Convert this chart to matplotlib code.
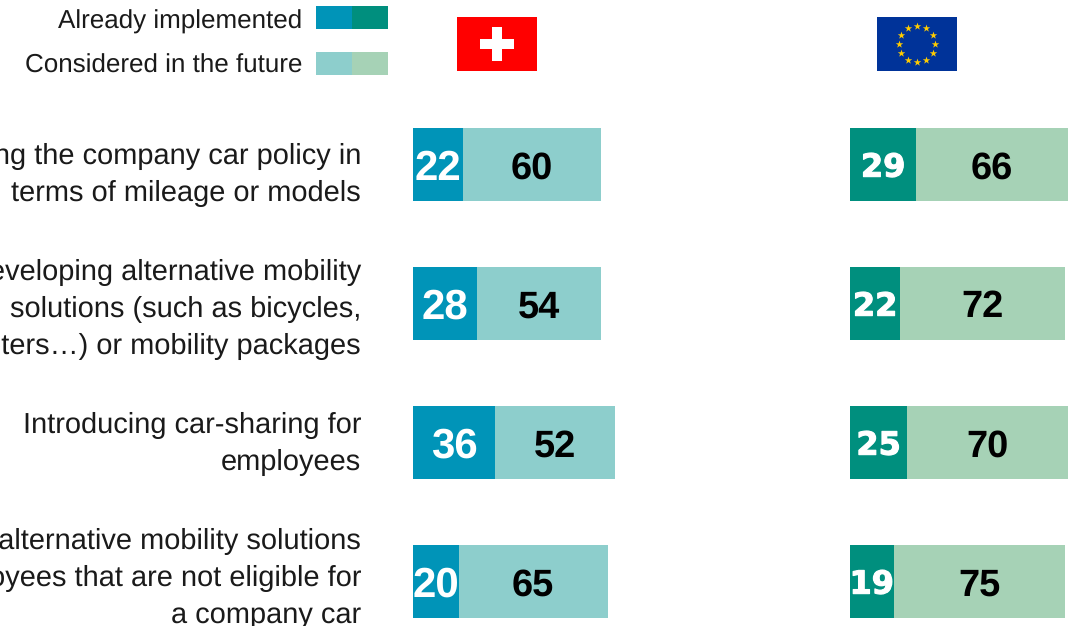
import numpy as np
import matplotlib
matplotlib.use("Agg")
import matplotlib.pyplot as plt
from matplotlib import patches
import matplotlib.patheffects as pe

plt.rcParams['font.family'] = ['Liberation Sans', 'DejaVu Sans']
plt.rcParams['text.hinting'] = 'none'
plt.rcParams['text.hinting_factor'] = 1

# values
labels = [
    "Changing the company car policy in\nterms of mileage or models",
    "Developing alternative mobility\nsolutions (such as bicycles,\nscooters…) or mobility packages",
    "Introducing car-sharing for\nemployees",
    "Offering alternative mobility solutions\nto employees that are not eligible for\na company car",
]
ch_done = [22, 28, 36, 20]
ch_future = [60, 54, 52, 65]
eu_done = [29, 22, 25, 19]
eu_future = [66, 72, 70, 75]
legend_names = ["Already implemented", "Considered in the future"]

W, H = 1074, 626
fig = plt.figure(figsize=(W / 100, H / 100), dpi=100)

# overlay in pixel coordinates for the legend, flags and row labels
bg = fig.add_axes([0, 0, 1, 1])
bg.set_xlim(0, W)
bg.set_ylim(H, 0)
bg.axis('off')


def add_bars(left_px, done, future, dark, light, done_font, done_size, stroke):
    # 100 units is 229 px, rows are 139 px apart
    ax = fig.add_axes([left_px / W, 0, 98 * 2.29 / W, (H - 95) / H])
    y = np.arange(len(done))
    ax.barh(y, done, height=0.525, color=dark)
    ax.barh(y, future, left=done, height=0.525, color=light)
    ax.set_xlim(0, 98)
    ax.set_ylim((H - 164.5) / 139, -0.5)
    ax.axis('off')
    for i in y:
        t = ax.text(done[i] / 2, i, str(done[i]), color='white', ha='center', va='center_baseline',
                    fontsize=done_size, fontweight='bold', family=done_font)
        if stroke:
            t.set_path_effects([pe.withStroke(linewidth=stroke, foreground='white')])
        ax.text(done[i] + future[i] / 2, i, str(future[i]), color='black', ha='center',
                va='center_baseline', fontsize=27, fontweight='bold')


add_bars(413, ch_done, ch_future, '#0094B8', '#8DCECC', 'Liberation Sans', 30, 0)
add_bars(850, eu_done, eu_future, '#008F7E', '#A6D2B6', 'DejaVu Sans', 23, 0.8)

# row labels
label_y = [175, 309.5, 444, 578.5]
for text, yy in zip(labels, label_y):
    bg.text(361, yy, text, ha='right', va='center', fontsize=21.2,
            linespacing=1.46, color='#1a1a1a')

# legend
for name, yy, ty, c1, c2 in zip(legend_names, [6, 52], [22, 66], ['#0094B8', '#8DCECC'], ['#008F7E', '#A6D2B6']):
    bg.add_patch(patches.Rectangle((316, yy), 36, 23, facecolor=c1, edgecolor='none'))
    bg.add_patch(patches.Rectangle((352, yy), 36, 23, facecolor=c2, edgecolor='none'))
    bg.text(302, ty, name, ha='right', va='center', fontsize=18.9, color='#1a1a1a')

# swiss flag
bg.add_patch(patches.Rectangle((457, 17), 80, 54, facecolor='#FF0000', edgecolor='none'))
bg.add_patch(patches.Rectangle((492, 27), 10, 34, facecolor='white', edgecolor='none'))
bg.add_patch(patches.Rectangle((480, 39), 34, 10, facecolor='white', edgecolor='none'))

# eu flag
bg.add_patch(patches.Rectangle((877, 17), 80, 54, facecolor='#003399', edgecolor='none'))
angles = np.deg2rad(np.arange(0, 360, 30))
bg.scatter(917 + 18 * np.cos(angles), 44 + 18 * np.sin(angles), marker='*', s=32,
           color='#FFCC00', linewidths=0, zorder=3)

fig.savefig('out.png', dpi=100)
